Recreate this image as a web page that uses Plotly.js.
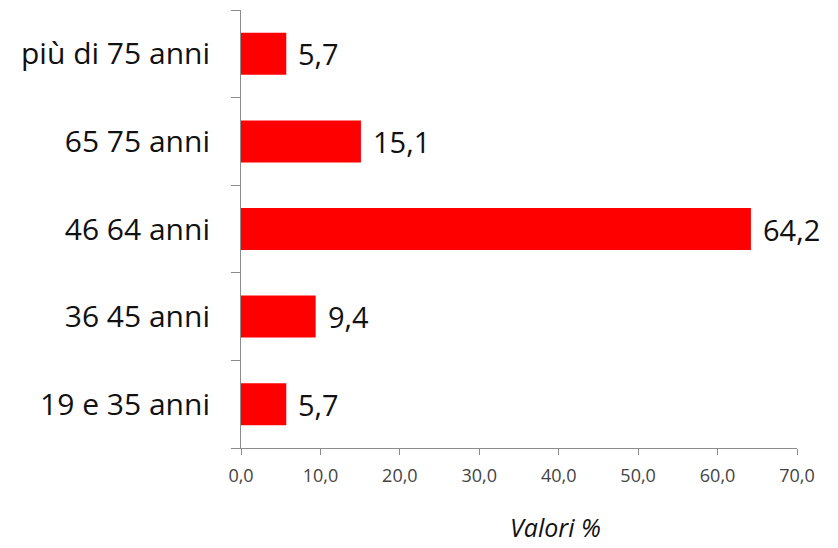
<!DOCTYPE html>
<html>
<head>
<meta charset="utf-8">
<script src="https://cdn.plot.ly/plotly-3.0.1.min.js"></script>
<style>html,body{margin:0;padding:0;background:#fff;}#chart{width:838px;height:548px;}</style>
</head>
<body>
<div id="chart"></div>
<script>
var categories = ["19 e 35 anni", "36 45 anni", "46 64 anni", "65 75 anni", "più di 75 anni"];
var values = [5.7, 9.4, 64.2, 15.1, 5.7];
var xTickValues = [0, 10, 20, 30, 40, 50, 60, 70];
var xAxisTitle = "Valori %";

var trace = {
  type: "bar",
  orientation: "h",
  x: values,
  y: categories,
  marker: {color: "#ff0000"},
  hoverinfo: "none"
};

var annotations = values.map(function (v, i) {
  return {
    x: v, y: categories[i], xref: "x", yref: "y",
    text: v.toFixed(1).replace(".", ","),
    showarrow: false, xanchor: "left", yanchor: "middle", xshift: 10,
    font: {family: "Open Sans, sans-serif", size: 29, color: "#111"}
  };
});
annotations.push({
  xref: "paper", yref: "paper", x: 0.565, y: -0.18, yanchor: "middle",
  text: "<i>" + xAxisTitle + "</i>", showarrow: false,
  font: {family: "Open Sans, sans-serif", size: 25, color: "#111"}
});

var layout = {
  width: 838, height: 548,
  margin: {l: 241, r: 41, t: 10, b: 100},
  paper_bgcolor: "#fff", plot_bgcolor: "#fff",
  separators: ",.",
  showlegend: false,
  bargap: 0.52,
  xaxis: {
    range: [0, 70], tickvals: xTickValues, tickformat: ".1f",
    showgrid: false, zeroline: false, showline: true, linecolor: "#8c8c8c", linewidth: 1,
    ticks: "outside", ticklen: 6, tickcolor: "#8c8c8c", ticklabelstandoff: 5,
    tickfont: {family: "Open Sans, sans-serif", size: 18, color: "#444"}
  },
  yaxis: {
    type: "category", range: [-0.5, 4.5],
    showgrid: false, zeroline: false, showline: true, linecolor: "#8c8c8c", linewidth: 1,
    ticks: "outside", ticklen: 9, tickcolor: "#8c8c8c", tickson: "boundaries",
    ticklabelstandoff: 24,
    tickfont: {family: "Open Sans, sans-serif", size: 30, color: "#111"}
  },
  annotations: annotations
};

Plotly.newPlot("chart", [trace], layout, {staticPlot: true, displayModeBar: false});
</script>
</body>
</html>
